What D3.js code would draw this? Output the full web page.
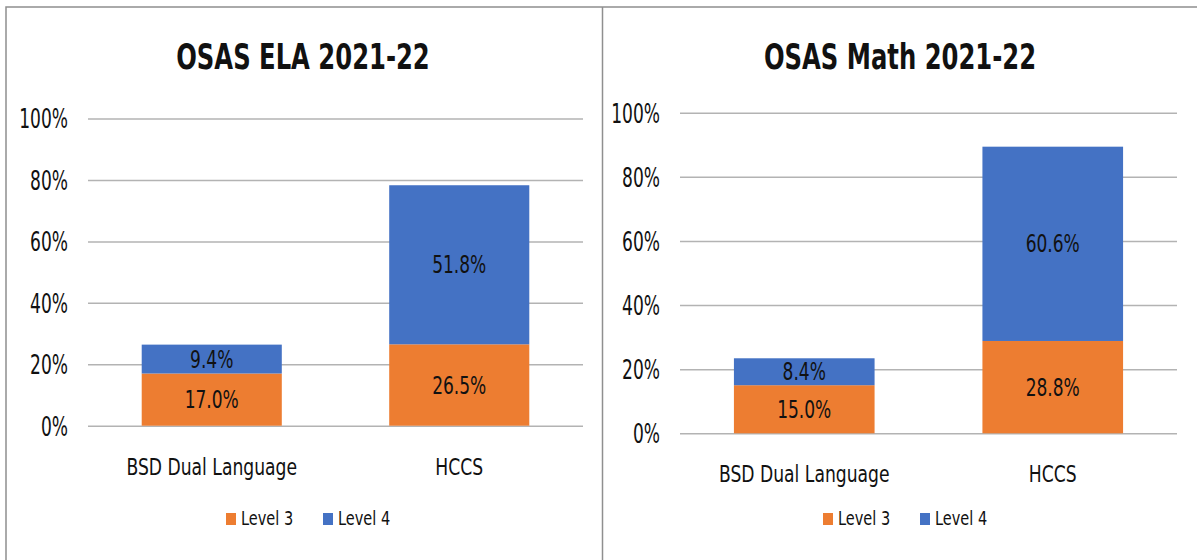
<!DOCTYPE html>
<meta charset="utf-8">
<style>
    body {
        margin: 0;
        background: #fff;
    }
    svg text {
        font-family: "DejaVu Sans Condensed", "DejaVu Sans", sans-serif;
        fill: #111;
    }
    .title {
        font-size: 36px;
        font-weight: bold;
    }
    .axis text {
        font-size: 26px;
    }
    .axis line {
        stroke: #b3b3b3;
        stroke-width: 1.5px;
    }
    .axis .domain {
        display: none;
    }
    .bar-label {
        font-size: 24px;
    }
    .cat-label {
        font-size: 23px;
    }
    .legend text {
        font-size: 19px;
    }
</style>

<body>
    <script src="https://cdn.jsdelivr.net/npm/d3@7"></script>
    <script>
        /* data */
        var categories = ["BSD Dual Language", "HCCS"];
        var seriesNames = ["Level 3", "Level 4"];
        var elaLevel3 = [17.0, 26.5];
        var elaLevel4 = [9.4, 51.8];
        var mathLevel3 = [15.0, 28.8];
        var mathLevel4 = [8.4, 60.6];
        var yTicks = [0, 20, 40, 60, 80, 100];

        var colors = ["#ED7D31", "#4472C4"];

        var w = 1197;
        var h = 560;

        // the source text is tall and narrow, so squeeze it sideways
        var squeeze = { title: 0.75, tick: 0.73, bar: 0.79, cat: 0.83, legend: 0.85 };

        var svg = d3.select("body").append("svg")
            .attr("width", w)
            .attr("height", h);

        /* panel frames */
        var frame = svg.append("g")
            .attr("fill", "none")
            .attr("stroke", "#8f8f8f")
            .attr("stroke-width", 1.5);
        frame.append("path").attr("d", "M6,560V7H1197");
        frame.append("path").attr("d", "M602.5,7V560");

        var fmt = function (v) { return d3.format(".1f")(v) + "%"; };

        function place(x, y, k) {
            return "translate(" + x + "," + y + ") scale(" + k + ",1)";
        }

        function drawChart(opts) {
            var g = svg.append("g");

            var xScale = d3.scaleBand()
                .domain(categories)
                .range([opts.left, opts.right])
                .paddingInner(0.434)
                .paddingOuter(0.217);

            var yScale = d3.scaleLinear()
                .domain([0, 100])
                .range([opts.bottom, opts.top]);

            // stack the two levels
            var rows = categories.map(function (c, i) {
                return { cat: c, l3: opts.l3[i], l4: opts.l4[i] };
            });
            var layers = d3.stack().keys(["l3", "l4"])(rows);

            // title
            g.append("text")
                .attr("class", "title")
                .attr("transform", place(opts.center, 69, squeeze.title))
                .attr("text-anchor", "middle")
                .text(opts.title);

            // gridlines + y axis
            var yAxis = d3.axisLeft(yScale)
                .tickValues(yTicks)
                .tickSize(-(opts.right - opts.left))
                .tickPadding(20)
                .tickFormat(function (d) { return d + "%"; });

            g.append("g")
                .attr("class", "axis")
                .attr("transform", "translate(" + opts.left + ",0)")
                .call(yAxis)
                .selectAll("text")
                .attr("x", -20 / squeeze.tick)
                .attr("transform", "scale(" + squeeze.tick + ",1)")
                .attr("dy", "0.36em");

            // bars
            layers.forEach(function (layer, li) {
                g.append("g")
                    .selectAll("rect")
                    .data(layer)
                    .enter()
                    .append("rect")
                    .attr("x", function (d) { return xScale(d.data.cat); })
                    .attr("width", xScale.bandwidth())
                    .attr("y", function (d) { return yScale(d[1]); })
                    .attr("height", function (d) { return yScale(d[0]) - yScale(d[1]); })
                    .attr("fill", colors[li]);

                g.append("g")
                    .selectAll("text")
                    .data(layer)
                    .enter()
                    .append("text")
                    .attr("class", "bar-label")
                    .attr("text-anchor", "middle")
                    .attr("transform", function (d) {
                        return place(xScale(d.data.cat) + xScale.bandwidth() / 2,
                            yScale((d[0] + d[1]) / 2), squeeze.bar);
                    })
                    .attr("dy", "0.36em")
                    .text(function (d) { return fmt(d[1] - d[0]); });
            });

            // category labels
            g.append("g")
                .selectAll("text")
                .data(categories)
                .enter()
                .append("text")
                .attr("class", "cat-label")
                .attr("text-anchor", "middle")
                .attr("transform", function (d) {
                    return place(xScale(d) + xScale.bandwidth() / 2, opts.catY, squeeze.cat);
                })
                .text(function (d) { return d; });

            // legend
            var legend = g.append("g")
                .attr("class", "legend")
                .attr("transform", "translate(" + (opts.center - 77) + ",525)");

            var item = legend.selectAll("g")
                .data(seriesNames)
                .enter()
                .append("g")
                .attr("transform", function (d, i) { return "translate(" + (i * 97) + ",0)"; });

            item.append("rect")
                .attr("x", 0)
                .attr("y", -12)
                .attr("width", 10)
                .attr("height", 12)
                .attr("fill", function (d, i) { return colors[i]; });

            item.append("text")
                .attr("transform", place(15, 0, squeeze.legend))
                .text(function (d) { return d; });
        }

        drawChart({
            title: "OSAS ELA 2021-22",
            l3: elaLevel3,
            l4: elaLevel4,
            left: 88,
            right: 583,
            top: 118.6,
            bottom: 425.7,
            center: 303,
            catY: 475
        });

        drawChart({
            title: "OSAS Math 2021-22",
            l3: mathLevel3,
            l4: mathLevel4,
            left: 680,
            right: 1177,
            top: 112.7,
            bottom: 433.3,
            center: 900,
            catY: 482
        });
    </script>
</body>
